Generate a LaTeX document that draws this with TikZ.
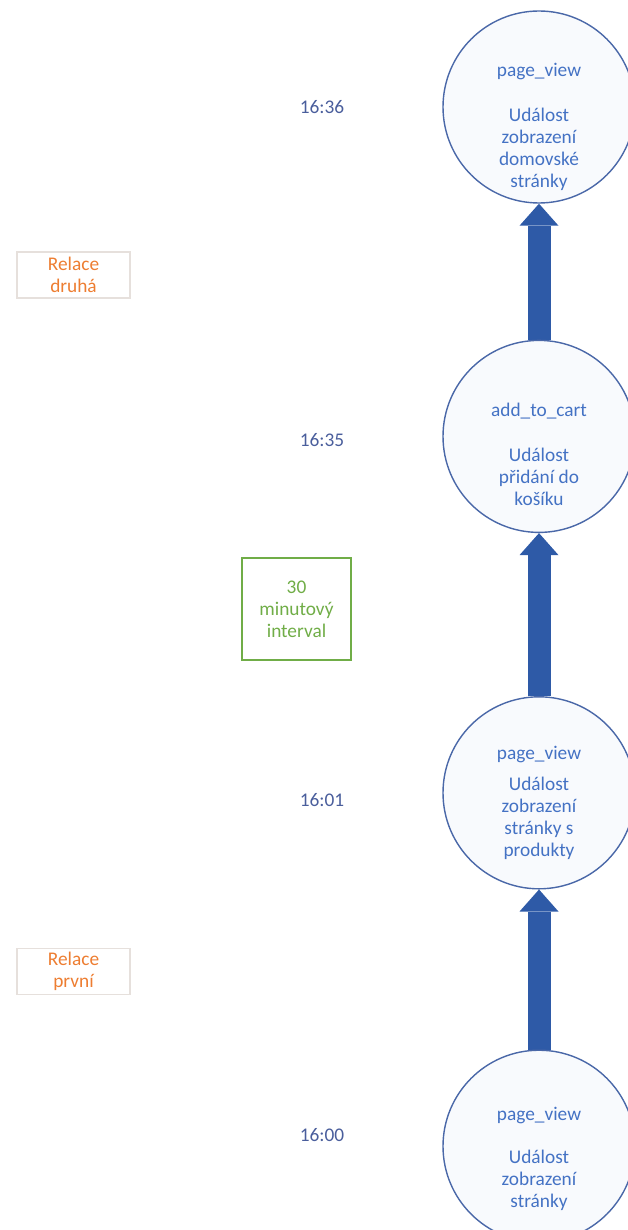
\documentclass[tikz,border=0pt]{standalone}
\usepackage{fontspec}
\setmainfont{Carlito}
\definecolor{ArrowBlue}{HTML}{2E5AA7}
\definecolor{RingBlue}{HTML}{4A68A8}
\definecolor{EventText}{HTML}{4472C4}
\definecolor{EventFill}{HTML}{F8FAFD}
\definecolor{TimeText}{HTML}{4A5E9C}
\definecolor{SessionOrange}{HTML}{ED7D31}
\definecolor{SessionFrame}{HTML}{E6E0DC}
\definecolor{IntervalGreen}{HTML}{70AD47}
\usetikzlibrary{
  arrows.meta,
  positioning,
  backgrounds
}

\begin{document}
\begin{tikzpicture}[
  event/.style={
    circle, draw=RingBlue, line width=0.8pt,
    fill=EventFill, minimum size=3.84cm, inner sep=0pt
  },
  evtext/.style={
    font=\fontsize{11}{12.5}\selectfont, text=EventText,
    align=center
  },
  timelabel/.style={
    font=\fontsize{11}{13}\selectfont, text=TimeText
  },
  session/.style={
    rectangle, draw=SessionFrame, line width=0.6pt,
    minimum width=2.26cm, minimum height=0.92cm, inner sep=0pt,
    font=\fontsize{11}{12.5}\selectfont, text=SessionOrange,
    align=center
  },
  interval/.style={
    rectangle, draw=IntervalGreen, line width=0.6pt,
    minimum width=2.18cm, minimum height=2.04cm, inner sep=0pt,
    font=\fontsize{11}{12.5}\selectfont, text=IntervalGreen,
    align=center
  },
  flow/.style={
    -{Triangle[width=0.78cm, length=0.44cm, line width=0pt]},
    line width=0.46cm, ArrowBlue
  }
]
  \useasboundingbox (0,0) rectangle (12.56,-24.6);

  % Events, newest on top
  \node[event] (pvHome) at (10.78,-2.14) {};
  \node[event, below=2.72cm of pvHome] (addCart) {};
  \node[event, below=3.26cm of addCart] (pvProd) {};
  \node[event, below=3.2cm of pvProd] (pvStart) {};

  \node[evtext] (pvHomeTxt) at ([yshift=-0.4cm]pvHome.center)
    {page\_view\\[0.46cm]Událost\\zobrazení\\domovské\\stránky};
  \node[evtext] (addCartTxt) at ([yshift=-0.36cm]addCart.center)
    {add\_to\_cart\\[0.46cm]Událost\\přidání do\\košíku};
  \node[evtext] (pvProdTxt) at ([yshift=-0.21cm]pvProd.center)
    {page\_view\\[0.18cm]Událost\\zobrazení\\stránky s\\produkty};
  \node[evtext] (pvStartTxt) at ([yshift=-0.26cm]pvStart.center)
    {page\_view\\[0.42cm]Událost\\zobrazení\\stránky};

  % Time stamps
  \node[timelabel] (t1636) at (6.44,-2.14) {16:36};
  \node[timelabel] (t1635) at (6.44,-8.8) {16:35};
  \node[timelabel] (t1601) at (6.44,-16.0) {16:01};
  \node[timelabel] (t1600) at (6.44,-22.7) {16:00};

  % Sessions and gap
  \node[session] (sessTwo) at (1.47,-5.5) {Relace\\druhá};
  \node[session] (sessOne) at (1.47,-19.43) {Relace\\první};
  \node[interval] (gap) at (5.93,-12.18) {30\\minutový\\interval};

  \begin{scope}[on background layer]
    \draw[flow] (addCart.north) -- (pvHome.south);
    \draw[flow] (pvProd.north) -- (addCart.south);
    \draw[flow] (pvStart.north) -- (pvProd.south);
  \end{scope}
\end{tikzpicture}
\end{document}
